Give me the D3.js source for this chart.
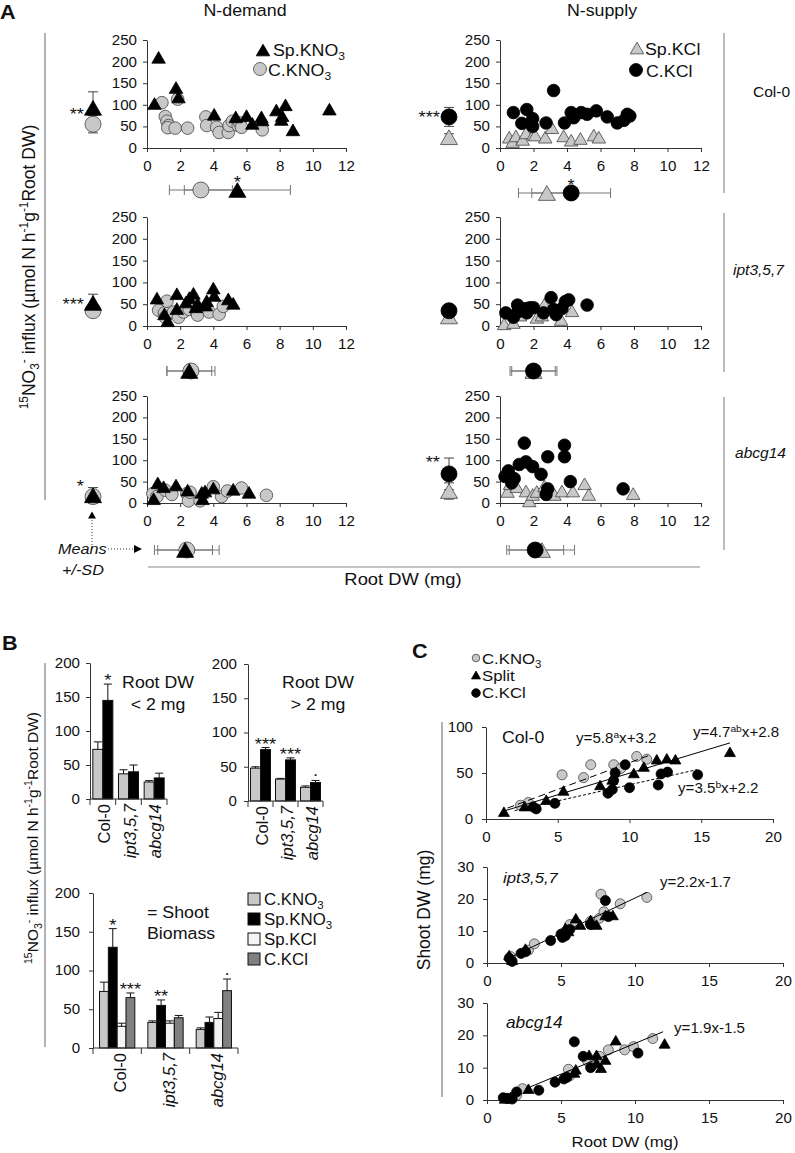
<!DOCTYPE html>
<html lang="en">
<head>
<meta charset="UTF-8">
<title>15NO3- influx, root and shoot biomass</title>
<script src="https://cdnjs.cloudflare.com/ajax/libs/d3/7.8.5/d3.min.js"></script>
<style type="text/css">
  body { margin: 0; background: #fff; }
  svg { font-family: "Liberation Sans", Arial, sans-serif; }
</style>
</head>
<body>
<svg id="fig" width="795" height="1153"></svg>
<script type="text/javascript">
// ---------------- data ----------------
var genotypes = ["Col-0", "ipt3,5,7", "abcg14"];
var influxTicks = [0, 50, 100, 150, 200, 250];
var rootTicks = [0, 2, 4, 6, 8, 10, 12];
var barTicks = [0, 50, 100, 150, 200];
var shootXTicks = [0, 5, 10, 15, 20];

// panel A points: [root DW (mg), 15NO3- influx]
var colSpKNO3 = [[0.45, 103], [0.7, 210], [1.75, 140], [1.9, 118], [4.05, 78], [5.35, 72], [6.0, 75], [6.35, 57], [6.9, 72], [6.95, 65], [7.8, 88], [8.1, 66], [8.15, 75], [8.35, 100], [8.8, 42], [11.0, 90]];
var colCKNO3 = [[0.9, 105], [1.85, 113], [1.1, 73], [1.2, 62], [1.3, 52], [1.25, 47], [1.7, 46], [2.45, 46], [3.55, 72], [3.6, 52], [4.2, 48], [4.35, 36], [4.9, 36], [4.95, 52], [5.15, 62], [5.5, 52], [5.6, 58], [5.7, 48], [6.95, 42]];
var colSpKCl = [[0.55, 25], [0.75, 15], [0.95, 28], [1.35, 20], [1.55, 35], [2.0, 32], [2.1, 30], [2.7, 25], [3.1, 47], [3.8, 28], [4.25, 18], [4.8, 22], [5.6, 30], [5.9, 25]];
var colCKCl = [[0.8, 82], [1.3, 57], [1.6, 89], [1.95, 68], [1.95, 50], [2.75, 58], [3.2, 133], [3.85, 58], [4.25, 82], [4.4, 70], [4.85, 82], [5.2, 78], [5.75, 86], [6.4, 72], [7.0, 58], [7.4, 64], [7.6, 78], [7.75, 74]];
var iptSpKNO3 = [[0.6, 64], [1.05, 28], [1.25, 12], [1.8, 74], [1.8, 40], [2.35, 55], [2.55, 65], [2.8, 75], [2.95, 44], [3.05, 52], [3.55, 48], [3.6, 58], [4.0, 87], [4.05, 70], [4.9, 62], [5.2, 52]];
var iptCKNO3 = [[0.7, 36], [1.05, 30], [1.1, 20], [1.2, 57], [1.6, 32], [1.9, 20], [2.2, 32], [2.55, 38], [3.0, 32], [3.05, 25], [3.75, 32], [4.35, 27], [4.6, 45]];
var iptSpKCl = [[0.25, 5], [0.8, 8], [1.2, 25], [2.2, 20], [2.5, 25], [2.65, 50], [3.1, 40], [3.65, 15], [4.3, 35]];
var iptCKCl = [[0.35, 30], [0.8, 20], [1.05, 48], [1.05, 32], [1.55, 40], [1.6, 30], [1.8, 42], [2.0, 42], [2.6, 30], [3.05, 65], [3.2, 38], [3.35, 26], [3.7, 40], [3.9, 56], [4.1, 60], [5.2, 48]];
var abcSpKNO3 = [[0.4, 10], [0.65, 47], [1.0, 38], [1.75, 42], [2.45, 30], [3.3, 25], [3.35, 10], [3.5, 28], [4.0, 35], [5.2, 32], [6.15, 25]];
var abcCKNO3 = [[0.35, 22], [0.6, 15], [1.1, 30], [1.5, 20], [2.4, 22], [2.5, 5], [2.6, 25], [3.2, 5], [4.0, 38], [4.5, 15], [4.85, 28], [5.7, 35], [7.2, 18]];
var abcSpKCl = [[0.45, 27], [0.6, 45], [1.0, 38], [1.55, 28], [1.75, 5], [1.95, 20], [2.2, 27], [2.65, 40], [3.25, 20], [3.7, 28], [4.35, 28], [5.05, 45], [5.3, 20], [7.95, 22]];
var abcCKCl = [[0.3, 62], [0.5, 75], [0.7, 47], [0.85, 57], [1.15, 90], [1.45, 140], [1.55, 96], [1.95, 85], [2.45, 67], [2.75, 20], [2.85, 33], [2.85, 108], [3.85, 108], [3.85, 135], [4.2, 50], [7.35, 33]];

// panel A means [mean, SD], per genotype: [N-demand, N-supply]
var triInfluxMean = [[[93, 37], [25, 8]], [[53, 20], [22, 10]], [[18, 18], [28, 19]]];
var dotInfluxMean = [[[55, 20], [72, 22]], [[35, 10], [35, 12]], [[15, 10], [68, 37]]];
var triRootMean = [[[5.45, 3.2], [2.8, 1.7]], [[2.55, 1.35], [2.0, 1.3]], [[2.3, 1.65], [2.5, 1.95]]];
var dotRootMean = [[[3.25, 1.9], [4.25, 2.35]], [[2.65, 1.45], [2.0, 1.4]], [[2.4, 1.95], [2.1, 1.7]]];
var influxStars = [["**", "***"], ["***", ""], ["*", "**"]];
var influxStarLevel = [[88, 81], [60, 0], [49, 104]];
var rootStars = [["*", "*"], ["", ""], ["", ""]];

// panel B: mean and SD per genotype
var smallCKNO3 = [73, 37, 25], smallCKNO3sd = [11, 6, 2];
var smallSpKNO3 = [145, 40, 31], smallSpKNO3sd = [24, 10, 7];
var largeCKNO3 = [48, 32, 20], largeCKNO3sd = [2, 1, 2];
var largeSpKNO3 = [75, 60, 27], largeSpKNO3sd = [3, 3, 3];
var shootCKNO3 = [73, 33, 24], shootCKNO3sd = [12, 2, 2];
var shootSpKNO3 = [130, 55, 33], shootSpKNO3sd = [24, 7, 7];
var shootSpKCl = [28, 32, 38], shootSpKClsd = [4, 3, 8];
var shootCKCl = [65, 39, 74], shootCKClsd = [6, 3, 15];
var smallStars = ["*", "", ""];
var largeStars = ["***", "***", "."];
var shootSpStars = ["*", "**", ""];
var shootCKClStars = ["***", "", "."];

// panel C points: [root DW, shoot DW]
var cColCKNO3 = [[2.4, 15], [2.95, 18], [5.3, 48], [6.8, 45], [7.3, 59], [8.9, 59], [9.4, 55], [10.5, 68], [11.2, 65]];
var cColSplit = [[1.25, 8], [2.7, 14], [4.2, 21], [5.4, 31], [7.95, 37], [8.8, 43], [10.3, 50], [11.0, 57], [11.9, 65], [12.6, 66], [13.2, 65], [17.0, 73]];
var cColCKCl = [[3.3, 13], [3.5, 11], [4.8, 17], [8.5, 28], [8.8, 32], [8.9, 42], [9.0, 50], [9.7, 59], [10.0, 34], [12.0, 37], [12.2, 49], [12.65, 51], [14.75, 48]];
var cIptCKNO3 = [[1.6, 2], [2.8, 4], [3.2, 6], [5.2, 9.5], [5.6, 12], [6.0, 12.5], [7.0, 13], [7.6, 14], [7.7, 21.5], [7.9, 16], [9.0, 18.5], [10.8, 20.5]];
var cIptSplit = [[1.5, 2.5], [1.7, 1], [2.6, 4.5], [5.3, 11], [5.5, 10], [6.0, 14], [6.3, 12], [7.0, 13.5], [7.4, 12], [8.0, 15], [8.5, 15]];
var cIptCKCl = [[1.5, 1.5], [1.7, 0.5], [2.3, 3], [2.6, 3.5], [4.3, 7], [5.0, 9], [5.1, 8], [5.3, 8.5], [5.6, 10.5], [7.0, 12], [8.0, 19.5], [8.2, 14.5]];
var cAbcCKNO3 = [[1.3, 0.5], [2.0, 1.5], [2.4, 3.5], [5.5, 9.5], [5.6, 7.5], [6.8, 12], [7.2, 11], [7.6, 13.5], [8.2, 15.5], [9.3, 15.5], [9.9, 16.5], [11.2, 19]];
var cAbcSplit = [[1.2, 0.5], [1.6, 1], [2.8, 3.5], [5.9, 8.5], [6.0, 9.5], [6.9, 14], [7.4, 14], [7.4, 11.5], [7.7, 10], [8.0, 12.5], [8.7, 18.5], [12.0, 17.5]];
var cAbcCKCl = [[1.1, 0.7], [1.4, 0.5], [1.7, 0.3], [2.0, 2.5], [3.5, 3], [4.6, 5.5], [5.2, 6.5], [5.4, 7], [5.9, 18], [6.5, 13.5], [7.0, 10], [10.2, 14.5]];
// fits: [slope, intercept, from, to]
var fitColCKNO3 = [5.8, 3.2, 1.5, 11.3];
var fitColSplit = [4.7, 2.8, 1.2, 17.0];
var fitColCKCl = [3.5, 2.2, 2.0, 14.7];
var fitIpt = [2.2, -1.7, 1.5, 10.8];
var fitAbc = [1.9, -1.5, 2.6, 11.9];

// ---------------- helpers ----------------
var svg = d3.select("#fig");
var GRAY = "#c8c8c8";
var INK = "#111";
var SX = 1.08; // lettering in the figure is slightly wider than tall

function label(g, x, y, parts, size, opts) {
  opts = opts || {};
  var tr = "translate(" + x + "," + y + ")" + (opts.rotate ? " rotate(" + opts.rotate + ")" : " scale(" + SX + ",1)");
  var t = g.append("text")
    .attr("transform", tr)
    .attr("font-size", size)
    .attr("text-anchor", opts.anchor || "start")
    .attr("font-style", opts.italic ? "italic" : null)
    .attr("font-weight", opts.bold ? "bold" : null)
    .attr("fill", INK);
  if (typeof parts === "string") { t.text(parts); return t; }
  var cur = 0;
  parts.forEach(function (p) {
    var kind = p[1] || "";
    var shift = kind === "sup" ? -0.38 * size : kind === "sub" ? 0.24 * size : 0;
    t.append("tspan").attr("dy", shift - cur)
      .attr("font-size", kind ? size * 0.68 : size)
      .text(p[0]);
    cur = shift;
  });
  return t;
}

function styleAxis(a, size) {
  a.attr("font-family", null).attr("font-size", null);
  a.selectAll("text").attr("font-size", size).attr("fill", INK).attr("transform", "scale(" + SX + ",1)");
  a.selectAll("path, line").attr("stroke", "#333");
}

function triPath(w) { return d3.symbol().type(d3.symbolTriangle).size(0.433 * w * w)(); }
function triShift(w) { return w / (4 * Math.sqrt(3)); }

function drawTris(g, pts, x, y, w, fill) {
  g.selectAll(null).data(pts).enter().append("path")
    .attr("d", triPath(w))
    .attr("transform", function (d) { return "translate(" + x(d[0]) + "," + (y(d[1]) + triShift(w)) + ")"; })
    .attr("fill", fill).attr("stroke", fill === "#000" ? "#000" : "#444").attr("stroke-width", 0.8);
}
function drawDots(g, pts, x, y, r, fill) {
  g.selectAll(null).data(pts).enter().append("circle")
    .attr("cx", function (d) { return x(d[0]); })
    .attr("cy", function (d) { return y(d[1]); })
    .attr("r", r)
    .attr("fill", fill).attr("stroke", fill === "#000" ? "#000" : "#444").attr("stroke-width", 0.8);
}
function vline(g, x, y1, y2, color, w) {
  g.append("line").attr("x1", x).attr("x2", x).attr("y1", y1).attr("y2", y2)
    .attr("stroke", color).attr("stroke-width", w || 1);
}
function hline(g, x1, x2, y, color, w) {
  g.append("line").attr("x1", x1).attr("x2", x2).attr("y1", y).attr("y2", y)
    .attr("stroke", color).attr("stroke-width", w || 1);
}
function at(v) { return function () { return v; }; }

// ---------------- panel A ----------------
var triPts = [[colSpKNO3, colSpKCl], [iptSpKNO3, iptSpKCl], [abcSpKNO3, abcSpKCl]];
var dotPts = [[colCKNO3, colCKCl], [iptCKNO3, iptCKCl], [abcCKNO3, abcCKCl]];
var rowsA = [
  { yb: 148, yt: 40, meanY: [190, 193] },
  { yb: 326, yt: 217, meanY: [371, 371] },
  { yb: 503, yt: 396, meanY: [550, 550] }
];
var colsA = [
  { x0: 147, x1: 346, meanX: 93, triFill: "#000", dotFill: GRAY, triOnTop: true },
  { x0: 500, x1: 701, meanX: 449, triFill: GRAY, dotFill: "#000", triOnTop: false }
];

var gA = svg.append("g");
label(gA, 0, 19, "A", 20, { bold: true });
label(gA, 245, 16, "N-demand", 16.5, { anchor: "middle" });
label(gA, 602, 16, "N-supply", 16.5, { anchor: "middle" });

rowsA.forEach(function (row, r) {
  colsA.forEach(function (col, c) {
    var x = d3.scaleLinear().domain([0, 12]).range([col.x0, col.x1]);
    var y = d3.scaleLinear().domain([0, 250]).range([row.yb, row.yt]);
    var g = gA.append("g");
    var ax = g.append("g").attr("transform", "translate(0," + y(0) + ")")
      .call(d3.axisBottom(x).tickValues(rootTicks).tickSize(4).tickSizeOuter(0).tickPadding(9));
    styleAxis(ax, 14);
    var ay = g.append("g").attr("transform", "translate(" + x(0) + ",0)")
      .call(d3.axisLeft(y).tickValues(influxTicks).tickSize(4).tickSizeOuter(0).tickPadding(5.3));
    styleAxis(ay, 14);

    if (col.triOnTop) {
      drawDots(g, dotPts[r][c], x, y, 6.3, col.dotFill);
      drawTris(g, triPts[r][c], x, y, 13.5, col.triFill);
    } else {
      drawTris(g, triPts[r][c], x, y, 13.5, col.triFill);
      drawDots(g, dotPts[r][c], x, y, 6.3, col.dotFill);
    }

    // influx mean +/- SD left of the y axis
    var mx = col.meanX;
    var tm = triInfluxMean[r][c], dm = dotInfluxMean[r][c];
    [tm, dm].forEach(function (m) {
      vline(g, mx, y(m[0] - m[1]), y(m[0] + m[1]), "#444");
      hline(g, mx - 5, mx + 5, y(m[0] - m[1]), "#444");
      hline(g, mx - 5, mx + 5, y(m[0] + m[1]), "#444");
    });
    if (col.triOnTop) {
      drawDots(g, [[0, dm[0]]], at(mx), y, 8, col.dotFill);
      drawTris(g, [[0, tm[0]]], at(mx), y, 17, col.triFill);
    } else {
      drawTris(g, [[0, tm[0]]], at(mx), y, 17, col.triFill);
      drawDots(g, [[0, dm[0]]], at(mx), y, 8, col.dotFill);
    }
    if (influxStars[r][c]) label(g, mx - 9, y(influxStarLevel[r][c]) + 10, influxStars[r][c], 17, { anchor: "end" });

    // root DW mean +/- SD below the x axis
    var yy = row.meanY[c];
    var tr = triRootMean[r][c], dr = dotRootMean[r][c];
    [tr, dr].forEach(function (m) {
      hline(g, x(m[0] - m[1]), x(m[0] + m[1]), yy, "#777");
      vline(g, x(m[0] - m[1]), yy - 5, yy + 5, "#777");
      vline(g, x(m[0] + m[1]), yy - 5, yy + 5, "#777");
    });
    if (col.triOnTop) {
      drawDots(g, [[dr[0], 0]], x, at(yy), 8, col.dotFill);
      drawTris(g, [[tr[0], 0]], x, at(yy), 17, col.triFill);
    } else {
      drawTris(g, [[tr[0], 0]], x, at(yy), 17, col.triFill);
      drawDots(g, [[dr[0], 0]], x, at(yy), 8, col.dotFill);
    }
    if (rootStars[r][c]) label(g, x(Math.max(tr[0], dr[0])), yy - 2, rootStars[r][c], 17, { anchor: "middle" });
  });
});

// panel A legends
var legA = gA.append("g");
drawTris(legA, [[0, 0]], at(263), at(50), 13.5, "#000");
label(legA, 273, 56, [["Sp.KNO"], ["3", "sub"]], 16.5);
drawDots(legA, [[0, 0]], at(260), at(69), 6.5, GRAY);
label(legA, 268, 76, [["C.KNO"], ["3", "sub"]], 16.5);
drawTris(legA, [[0, 0]], at(637), at(48), 13.5, GRAY);
label(legA, 645, 55, "Sp.KCl", 16.5);
drawDots(legA, [[0, 0]], at(636), at(70), 6.5, "#000");
label(legA, 646, 77, "C.KCl", 16.5);

// genotype labels and frame lines
label(gA, 753, 97, genotypes[0], 14.4);
label(gA, 733, 275, genotypes[1], 14.4, { italic: true });
label(gA, 735, 458, genotypes[2], 14.4, { italic: true });
vline(gA, 724, 33, 193, "#999", 1.3);
vline(gA, 724, 213, 372, "#999", 1.3);
vline(gA, 724, 397, 550, "#999", 1.3);
vline(gA, 45, 33, 500, "#999", 1.5);
hline(gA, 148, 700, 567, "#888", 1.2);
label(gA, 403, 585, "Root DW (mg)", 17, { anchor: "middle" });
label(gA, 35, 267, [["15", "sup"], ["NO"], ["3", "sub"], ["-", "sup"], [" influx (µmol N h"], ["-1", "sup"], ["g"], ["-1", "sup"], ["Root DW)"]], 17.5, { rotate: -90, anchor: "middle" });

// "Means +/-SD" key
var key = gA.append("g");
key.append("path").attr("d", triPath(8)).attr("transform", "translate(92," + (515 + triShift(8)) + ")").attr("fill", "#000");
key.append("line").attr("x1", 92).attr("x2", 92).attr("y1", 520).attr("y2", 546)
  .attr("stroke", "#333").attr("stroke-dasharray", "1,2");
key.append("line").attr("x1", 108).attr("x2", 134).attr("y1", 549).attr("y2", 549)
  .attr("stroke", "#333").attr("stroke-dasharray", "1,2");
key.append("path").attr("d", "M134,545L142,549L134,553Z").attr("fill", "#000");
label(key, 58, 554, "Means", 15, { italic: true });
label(key, 62, 575, "+/-SD", 15, { italic: true });

// ---------------- panel B ----------------
var barFill = { "C.KNO3": "#c8c8c8", "Sp.KNO3": "#000", "Sp.KCl": "#f4f4f4", "C.KCl": "#808080" };
var gB = svg.append("g");
label(gB, 2, 650, "B", 20, { bold: true });

function barPanel(opt) {
  var x0 = d3.scaleBand().domain(genotypes).range([opt.x0, opt.x1])
    .paddingInner(opt.pad).paddingOuter(opt.pad / 2);
  var names = opt.series.map(function (s) { return s.name; });
  var x1 = d3.scaleBand().domain(names).range([0, x0.bandwidth()]);
  var y = d3.scaleLinear().domain([0, 200]).range([opt.yb, opt.yt]);
  var g = gB.append("g");

  opt.series.forEach(function (s) {
    var rows = genotypes.map(function (gt, i) {
      return { g: gt, v: s.values[i], sd: s.sds[i], star: s.stars ? s.stars[i] : "" };
    });
    var bx = function (d) { return x0(d.g) + x1(s.name); };
    var cx = function (d) { return bx(d) + x1.bandwidth() / 2; };
    g.selectAll(null).data(rows).enter().append("rect")
      .attr("x", bx)
      .attr("y", function (d) { return y(d.v); })
      .attr("width", x1.bandwidth())
      .attr("height", function (d) { return y(0) - y(d.v); })
      .attr("fill", barFill[s.name]).attr("stroke", "#111").attr("stroke-width", 1);
    g.selectAll(null).data(rows).enter().append("path")
      .attr("d", function (d) {
        var t = y(d.v + d.sd);
        return "M" + cx(d) + "," + y(d.v) + "V" + t + "M" + (cx(d) - 4) + "," + t + "H" + (cx(d) + 4);
      })
      .attr("stroke", "#111").attr("fill", "none");
    rows.forEach(function (d) {
      if (!d.star) return;
      var t = y(d.v + d.sd);
      label(g, cx(d), d.star === "." ? t - 4 : t + 2, d.star, 17, { anchor: "middle" });
    });
  });

  var ay = g.append("g").attr("transform", "translate(" + opt.x0 + ",0)")
    .call(d3.axisLeft(y).tickValues(barTicks).tickSize(4).tickSizeOuter(0).tickPadding(opt.tickPad));
  styleAxis(ay, 14);
  hline(g, opt.x0, opt.x1, y(0), "#333");
  d3.range(genotypes.length + 1).forEach(function (k) {
    vline(g, opt.x0 + k * x0.step(), y(0), y(0) + 6, "#333");
  });
  genotypes.forEach(function (gt, i) {
    label(g, x0(gt) + x0.bandwidth() / 2 + opt.labShift, y(0) + 5, gt, 16.5,
      { rotate: -90, anchor: "end", italic: i > 0 });
  });
}

barPanel({
  x0: 90, x1: 167, yb: 799, yt: 663, pad: 0.22, tickPad: 5.3, labShift: 7,
  series: [
    { name: "C.KNO3", values: smallCKNO3, sds: smallCKNO3sd },
    { name: "Sp.KNO3", values: smallSpKNO3, sds: smallSpKNO3sd, stars: smallStars }
  ]
});
barPanel({
  x0: 248, x1: 323, yb: 801, yt: 664, pad: 0.2, tickPad: 6.2, labShift: 7,
  series: [
    { name: "C.KNO3", values: largeCKNO3, sds: largeCKNO3sd },
    { name: "Sp.KNO3", values: largeSpKNO3, sds: largeSpKNO3sd, stars: largeStars }
  ]
});
barPanel({
  x0: 93, x1: 238, yb: 1048, yt: 893, pad: 0.27, tickPad: 8, labShift: 9,
  series: [
    { name: "C.KNO3", values: shootCKNO3, sds: shootCKNO3sd },
    { name: "Sp.KNO3", values: shootSpKNO3, sds: shootSpKNO3sd, stars: shootSpStars },
    { name: "Sp.KCl", values: shootSpKCl, sds: shootSpKClsd },
    { name: "C.KCl", values: shootCKCl, sds: shootCKClsd, stars: shootCKClStars }
  ]
});

label(gB, 158, 688, "Root DW", 16.4, { anchor: "middle" });
label(gB, 158, 710, "< 2 mg", 16.4, { anchor: "middle" });
label(gB, 318, 688, "Root DW", 16.4, { anchor: "middle" });
label(gB, 318, 710, "> 2 mg", 16.4, { anchor: "middle" });
label(gB, 147, 918, "= Shoot", 16.5);
label(gB, 147, 939, "Biomass", 16.5);

var legB = [
  ["C.KNO3", [["C.KNO"], ["3", "sub"]]],
  ["Sp.KNO3", [["Sp.KNO"], ["3", "sub"]]],
  ["Sp.KCl", "Sp.KCl"],
  ["C.KCl", "C.KCl"]
];
legB.forEach(function (e, i) {
  var yb = 905 + i * 20;
  gB.append("rect").attr("x", 248).attr("y", yb - 12).attr("width", 12).attr("height", 12)
    .attr("fill", barFill[e[0]]).attr("stroke", "#111");
  label(gB, 264, yb, e[1], 15.6);
});
vline(gB, 45, 663, 1047, "#999", 1.5);
label(gB, 38, 838, [["15", "sup"], ["NO"], ["3", "sub"], ["-", "sup"], [" influx (µmol N h"], ["-1", "sup"], ["g"], ["-1", "sup"], ["Root DW)"]], 15.5, { rotate: -90, anchor: "middle" });

// ---------------- panel C ----------------
var gC = svg.append("g");
label(gC, 412, 658, "C", 20, { bold: true });

var panelsC = [
  { name: genotypes[0], italic: false, x0: 486, x1: 773, yb: 819, yt: 727, ymax: 100, ticks: [0, 50, 100],
    gray: cColCKNO3, tri: cColSplit, black: cColCKCl,
    fits: [[fitColCKNO3, "7,4"], [fitColSplit, null], [fitColCKCl, "3,2"]],
    nameAt: [502, 743], nameSize: 16.4 },
  { name: genotypes[1], italic: true, x0: 487, x1: 783, yb: 963, yt: 867, ymax: 30, ticks: [0, 10, 20, 30],
    gray: cIptCKNO3, tri: cIptSplit, black: cIptCKCl, fits: [[fitIpt, null]], nameAt: [503, 883], nameSize: 15.5 },
  { name: genotypes[2], italic: true, x0: 487, x1: 783, yb: 1100, yt: 1003, ymax: 30, ticks: [0, 10, 20, 30],
    gray: cAbcCKNO3, tri: cAbcSplit, black: cAbcCKCl, fits: [[fitAbc, null]], nameAt: [506, 1028], nameSize: 16 }
];

panelsC.forEach(function (p) {
  var x = d3.scaleLinear().domain([0, 20]).range([p.x0, p.x1]);
  var y = d3.scaleLinear().domain([0, p.ymax]).range([p.yb, p.yt]);
  var g = gC.append("g");
  var ax = g.append("g").attr("transform", "translate(0," + y(0) + ")")
    .call(d3.axisBottom(x).tickValues(shootXTicks).tickSize(4).tickSizeOuter(0).tickPadding(9));
  styleAxis(ax, 14);
  var ay = g.append("g").attr("transform", "translate(" + x(0) + ",0)")
    .call(d3.axisLeft(y).tickValues(p.ticks).tickSize(4).tickSizeOuter(0).tickPadding(8));
  styleAxis(ay, 14);
  drawDots(g, p.gray, x, y, 5, GRAY);
  drawTris(g, p.tri, x, y, 11, "#000");
  drawDots(g, p.black, x, y, 5, "#000");
  p.fits.forEach(function (f) {
    var fit = f[0];
    g.append("line")
      .attr("x1", x(fit[2])).attr("y1", y(fit[0] * fit[2] + fit[1]))
      .attr("x2", x(fit[3])).attr("y2", y(fit[0] * fit[3] + fit[1]))
      .attr("stroke", "#000").attr("stroke-width", 1)
      .attr("stroke-dasharray", f[1]);
  });
  label(g, p.nameAt[0], p.nameAt[1], p.name, p.nameSize, { italic: p.italic });
});

label(gC, 576, 743, [["y=5.8"], ["a", "sup"], ["x+3.2"]], 14);
label(gC, 693, 737, [["y=4.7"], ["ab", "sup"], ["x+2.8"]], 14);
label(gC, 678, 793, [["y=3.5"], ["b", "sup"], ["x+2.2"]], 14);
label(gC, 660, 887, "y=2.2x-1.7", 14);
label(gC, 674, 1033, "y=1.9x-1.5", 14);

// panel C legend
var legC = gC.append("g");
drawDots(legC, [[0, 0]], at(476), at(658), 3.8, GRAY);
label(legC, 482, 664, [["C.KNO"], ["3", "sub"]], 15.5);
drawTris(legC, [[0, 0]], at(476), at(675), 9, "#000");
label(legC, 482, 681, "Split", 15.5);
drawDots(legC, [[0, 0]], at(476), at(693), 4.3, "#000");
label(legC, 482, 698, "C.KCl", 15.5);

vline(gC, 442, 722, 1097, "#999", 1.5);
label(gC, 430, 910, "Shoot DW (mg)", 17.5, { rotate: -90, anchor: "middle" });
label(gC, 625, 1147, "Root DW (mg)", 15.5, { anchor: "middle" });
</script>
</body>
</html>
